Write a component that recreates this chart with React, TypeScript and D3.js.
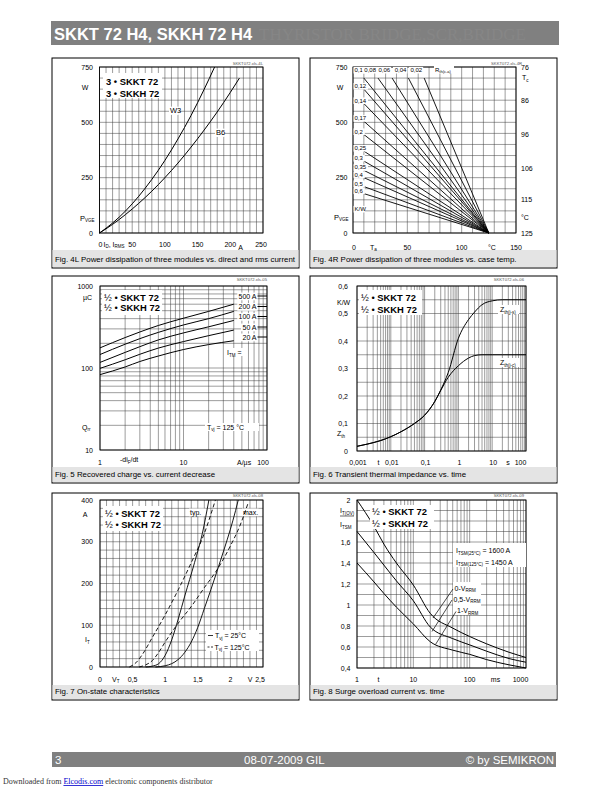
import React from "react";
import * as d3 from "d3";

const FONT = "'Liberation Sans', Arial, Helvetica, sans-serif";
const SERIF = "'Liberation Serif', 'Times New Roman', serif";

// ---------- Fig. 4L ----------
const f4l_w3_current = [0, 20, 40, 60, 80, 100, 120, 140, 160, 176];
const f4l_w3_power = [0, 45, 100, 166, 242, 328, 425, 531, 649, 750];
const f4l_b6_current = [0, 20, 40, 60, 80, 100, 120, 140, 160, 180, 200, 214];
const f4l_b6_power = [0, 39, 84, 134, 189, 250, 316, 388, 465, 547, 635, 700];
const f4l_xTicks = [50, 100, 150, 200];
const f4l_yTicks = [0, 250, 500, 750];

// ---------- Fig. 4R ----------
const f4r_sideLabels = ["0,12", "0,14", "0,17", "0,2", "0,25", "0,3", "0,35", "0,4", "0,5", "0,6"];
const f4r_sideStartPower = [650, 585, 505, 445, 370, 325, 283, 250, 210, 178];
const f4r_sideStartTa = 10;
const f4r_topLabels = ["0,1", "0,08", "0,06", "0,04", "0,02"];
const f4r_topStartTa = [10, 23, 36, 51, 65.5];
const f4r_topStartPower = 700;
const f4r_endTa = 125;
const f4r_xTicks = [50, 100, 150];
const f4r_yTicks = [0, 250, 500, 750];
const f4r_tcTicks = [76, 86, 96, 106, 115, 125];

// ---------- Fig. 5 ----------
const f5_didt = [1, 2, 3, 5, 10, 20, 40];
const f5_q500 = [176, 235, 275, 330, 405, 490, 600];
const f5_q200 = [146, 195, 228, 272, 335, 400, 490];
const f5_q100 = [117, 155, 182, 220, 268, 318, 380];
const f5_q50 = [99, 126, 147, 175, 210, 248, 290];
const f5_q20 = [83, 103, 120, 140, 168, 193, 215];
const f5_labels = ["500 A", "200 A", "100 A", "50 A", "20 A"];
const f5_yTicks = [10, 100, 1000];

// ---------- Fig. 6 ----------
const f6_t = [0.001, 0.002, 0.005, 0.01, 0.02, 0.05, 0.1, 0.2, 0.3, 0.5, 1, 2, 3, 5, 10, 20, 100];
const f6_zjc = [0.017, 0.025, 0.038, 0.052, 0.07, 0.1, 0.13, 0.18, 0.22, 0.268, 0.31, 0.338, 0.347, 0.35, 0.35, 0.35, 0.35];
const f6_zjs = [0.017, 0.025, 0.038, 0.052, 0.07, 0.1, 0.13, 0.18, 0.222, 0.285, 0.41, 0.478, 0.505, 0.532, 0.546, 0.55, 0.55];
const f6_yTicks = [0, 0.1, 0.2, 0.3, 0.4, 0.5, 0.6];
const f6_yLabels = ["0", "0,1", "0,2", "0,3", "0,4", "0,5", "0,6"];

// ---------- Fig. 7 ----------
const f7_typ25_v = [0.7, 0.8, 0.9, 1.0, 1.1, 1.2, 1.3, 1.45, 1.57, 1.67];
const f7_typ25_i = [0, 2, 8, 28, 65, 115, 170, 250, 320, 400];
const f7_typ125_v = [0.45, 0.55, 0.65, 0.8, 1.0, 1.2, 1.4, 1.6, 1.77];
const f7_typ125_i = [0, 10, 30, 70, 125, 185, 250, 320, 400];
const f7_max25_v = [0.85, 1.0, 1.1, 1.2, 1.3, 1.4, 1.5, 1.6, 1.7, 1.8, 1.9, 2.0, 2.08, 2.12];
const f7_max25_i = [0, 3, 8, 18, 35, 60, 95, 140, 185, 232, 280, 330, 375, 400];
const f7_max125_v = [0.6, 0.7, 0.8, 0.9, 1.0, 1.2, 1.4, 1.6, 1.8, 2.0, 2.15, 2.27];
const f7_max125_i = [0, 5, 15, 35, 60, 105, 145, 190, 234, 290, 340, 392];
const f7_yTicks = [0, 100, 200, 300, 400];

// ---------- Fig. 8 ----------
const f8_t = [1, 2, 3, 5, 10, 20, 50, 100, 200, 500, 1000];
const f8_v0 = [2.0, 1.75, 1.58, 1.4, 1.19, 0.92, 0.78, 0.7, 0.63, 0.55, 0.5];
const f8_v05 = [1.7, 1.5, 1.38, 1.23, 1.04, 0.79, 0.68, 0.62, 0.56, 0.49, 0.455];
const f8_v1 = [1.4, 1.22, 1.11, 0.98, 0.82, 0.65, 0.57, 0.53, 0.48, 0.43, 0.4];
const f8_yTicks = [0.4, 0.6, 0.8, 1, 1.2, 1.4, 1.6, 2];
const f8_yLabels = ["0,4", "0,6", "0,8", "1", "1,2", "1,4", "1,6", "2"];

// ---------- helpers ----------
function logGrid(lo: number, hi: number): number[] {
  const out: number[] = [];
  const d0 = Math.round(Math.log10(lo));
  const d1 = Math.round(Math.log10(hi));
  for (let d = d0; d < d1; d++) {
    for (let k = 1; k < 10; k++) out.push(k * Math.pow(10, d));
  }
  out.push(hi);
  return out;
}

function Frame({ x, y, w, h, capY0, capY1, caption, tag, tagX, tagY }: any) {
  return (
    <g>
      <rect x={x} y={y} width={w} height={h} fill="#fff" stroke="#000" strokeWidth={1} />
      <rect x={x + 0.5} y={capY0} width={w - 1} height={capY1 - capY0} fill="#e4e4e4" />
      <text x={x + 3} y={capY1 - 4.8} fontSize={7.9} fill="#000">{caption}</text>
      <text x={tagX} y={tagY} fontSize={4.2} fill="#555" textAnchor="end">{tag}</text>
    </g>
  );
}

function Grid({ xs, ys, x, y, x0, x1, y0, y1 }: any) {
  return (
    <g>
      <g stroke="#3a3a3a" strokeWidth={0.5}>
        {xs.map((v: number, i: number) => (
          <line key={"x" + i} x1={x(v)} x2={x(v)} y1={y0} y2={y1} />
        ))}
        {ys.map((v: number, i: number) => (
          <line key={"y" + i} x1={x0} x2={x1} y1={y(v)} y2={y(v)} />
        ))}
      </g>
      <rect x={x0} y={y0} width={x1 - x0} height={y1 - y0} fill="none" stroke="#000" strokeWidth={0.9} />
    </g>
  );
}

function Legend({ x, y, w, h, prefix, y1, y2, tx }: any) {
  return (
    <g>
      <rect x={x} y={y} width={w} height={h} fill="#fff" />
      <text x={tx} y={y1} fontSize={9.4} fontWeight={prefix === "3" ? "bold" : "normal"}>
        {prefix} • <tspan fontWeight="bold">SKKT 72</tspan>
      </text>
      <text x={tx} y={y2} fontSize={9.4} fontWeight={prefix === "3" ? "bold" : "normal"}>
        {prefix} • <tspan fontWeight="bold">SKKH 72</tspan>
      </text>
    </g>
  );
}

function LabelBox({ x, y, text, size = 7, anchor = "start", pad = 1 }: any) {
  const w = text.length * size * 0.52 + pad * 2;
  const left = anchor === "end" ? x - w + pad : anchor === "middle" ? x - w / 2 : x - pad;
  return (
    <g>
      <rect x={left} y={y - size * 0.85} width={w} height={size * 1.1} fill="#fff" />
      <text x={x} y={y} fontSize={size} textAnchor={anchor}>{text}</text>
    </g>
  );
}

// ---------- Fig. 4L ----------
function Fig4L() {
  const px0 = 99.5, px1 = 263, py0 = 67, py1 = 233;
  const x = d3.scaleLinear().domain([0, 250]).range([px0, px1]);
  const y = d3.scaleLinear().domain([0, 750]).range([py1, py0]);
  const line = d3.line<number[]>().x((d) => x(d[0])).y((d) => y(d[1])).curve(d3.curveMonotoneX);
  const w3 = f4l_w3_current.map((c, i) => [c, f4l_w3_power[i]]);
  const b6 = f4l_b6_current.map((c, i) => [c, f4l_b6_power[i]]);
  return (
    <g>
      <Frame x={52} y={58} w={247} h={210} capY0={250} capY1={267}
        caption="Fig. 4L Power dissipation of three modules vs. direct and rms current"
        tag="SKKT072.xls-4L" tagX={263} tagY={65} />
      <Grid xs={d3.range(0, 251, 10)} ys={d3.range(0, 751, 50)} x={x} y={y} x0={px0} x1={px1} y0={py0} y1={py1} />
      <g fill="none" stroke="#000" strokeWidth={1}>
        <path d={line(w3) || ""} />
        <path d={line(b6) || ""} />
      </g>
      <Legend x={103} y={73} w={59} h={25} prefix="3" tx={106} y1={84.5} y2={96.5} />
      <LabelBox x={170} y={113} text="W3" size={7.5} />
      <LabelBox x={216} y={135} text="B6" size={7.5} />
      {f4l_yTicks.map((v) => (
        <text key={v} x={93} y={y(v) + 2.5} fontSize={7} textAnchor="end">{v}</text>
      ))}
      <text x={85} y={89.5} fontSize={7} textAnchor="middle">W</text>
      <text x={80} y={220.5} fontSize={7.5}>P<tspan fontSize={4.5} dy={1.5}>VGE</tspan></text>
      <text x={x(0) + 1} y={246.5} fontSize={7} textAnchor="middle">0</text>
      <text x={103.5} y={246.5} fontSize={7}>I<tspan fontSize={4.5} dy={1.5}>D</tspan><tspan dy={-1.5}>, I</tspan><tspan fontSize={4.5} dy={1.5}>RMS</tspan></text>
      {f4l_xTicks.map((v) => (
        <text key={v} x={x(v)} y={246.5} fontSize={7} textAnchor="middle">{v}</text>
      ))}
      <text x={240.5} y={249.5} fontSize={7} textAnchor="middle">A</text>
      <text x={261} y={246.5} fontSize={7} textAnchor="middle">250</text>
    </g>
  );
}

// ---------- Fig. 4R ----------
function Fig4R() {
  const px0 = 353, px1 = 516, py0 = 67, py1 = 233;
  const x = d3.scaleLinear().domain([0, 150]).range([px0, px1]);
  const y = d3.scaleLinear().domain([0, 750]).range([py1, py0]);
  const yT = d3.scaleLinear().domain([125, 76]).range([py1, py0]);
  const endX = x(f4r_endTa), endY = y(0);
  return (
    <g>
      <Frame x={310} y={58} w={247} h={210} capY0={250} capY1={267}
        caption="Fig. 4R Power dissipation of three modules vs. case temp."
        tag="SKKT072.xls-4R" tagX={522} tagY={65} />
      <Grid xs={d3.range(0, 151, 10)} ys={d3.range(0, 751, 50)} x={x} y={y} x0={px0} x1={px1} y0={py0} y1={py1} />
      <g stroke="#000" strokeWidth={0.9}>
        {f4r_topStartTa.map((ta, i) => (
          <line key={"t" + i} x1={x(ta)} y1={y(f4r_topStartPower)} x2={endX} y2={endY} />
        ))}
        {f4r_sideStartPower.map((p, i) => (
          <line key={"s" + i} x1={x(f4r_sideStartTa)} y1={y(p)} x2={endX} y2={endY} />
        ))}
      </g>
      {f4r_topLabels.map((l, i) => (
        i === 0
          ? <LabelBox key={l} x={354.5} y={72} text={l} size={6} />
          : <LabelBox key={l} x={x(f4r_topStartTa[i]) - 2} y={72} text={l} size={6} anchor="end" />
      ))}
      <rect x={434} y={66} width={20} height={7.5} fill="#fff" />
      <text x={435} y={72} fontSize={6}>R<tspan fontSize={4} dy={1}>th(c-a)</tspan></text>
      {f4r_sideLabels.map((l, i) => (
        <LabelBox key={l} x={354.5} y={y(f4r_sideStartPower[i]) - 1} text={l} size={6} />
      ))}
      <LabelBox x={354.5} y={211} text="K/W" size={6} />
      {f4r_yTicks.map((v) => (
        <text key={v} x={347.5} y={y(v) + 2.5} fontSize={7} textAnchor="end">{v}</text>
      ))}
      <text x={340} y={89.5} fontSize={7} textAnchor="middle">W</text>
      <text x={334} y={219.5} fontSize={7.5}>P<tspan fontSize={4.5} dy={1.5}>VGE</tspan></text>
      {f4r_tcTicks.map((v) => (
        <text key={v} x={521} y={yT(v) + 2.5} fontSize={7}>{v}</text>
      ))}
      <text x={522} y={80} fontSize={7}>T<tspan fontSize={4.5} dy={1.5}>c</tspan></text>
      <text x={521} y={219.5} fontSize={7}>°C</text>
      <text x={x(0) + 1} y={249.5} fontSize={7} textAnchor="middle">0</text>
      <text x={370} y={249.5} fontSize={7}>T<tspan fontSize={4.5} dy={1.5}>a</tspan></text>
      {f4r_xTicks.map((v) => (
        <text key={v} x={x(v)} y={249.5} fontSize={7} textAnchor="middle">{v}</text>
      ))}
      <text x={492} y={249.5} fontSize={7} textAnchor="middle">°C</text>
    </g>
  );
}

// ---------- Fig. 5 ----------
function Fig5() {
  const px0 = 100, px1 = 267, py0 = 286, py1 = 450;
  const x = d3.scaleLog().domain([1, 100]).range([px0, px1]);
  const y = d3.scaleLog().domain([10, 1000]).range([py1, py0]);
  const line = d3.line<number[]>().x((d) => x(d[0])).y((d) => y(d[1])).curve(d3.curveMonotoneX);
  const series = [f5_q500, f5_q200, f5_q100, f5_q50, f5_q20];
  const labelY = [298.5, 309, 319, 329.5, 339.5];
  return (
    <g>
      <Frame x={52} y={276} w={247} h={207} capY0={467} capY1={482}
        caption="Fig. 5 Recovered charge vs. current decrease"
        tag="SKKT072.xls-05" tagX={267} tagY={281} />
      <Grid xs={logGrid(1, 100)} ys={logGrid(10, 1000)} x={x} y={y} x0={px0} x1={px1} y0={py0} y1={py1} />
      <g fill="none" stroke="#000" strokeWidth={1}>
        {series.map((s, i) => (
          <path key={i} d={line(f5_didt.map((d, j) => [d, s[j]])) || ""} />
        ))}
        {labelY.map((ly, i) => (
          <line key={"l" + i} x1={257} x2={px1} y1={ly - 2.5} y2={ly - 2.5} />
        ))}
      </g>
      {f5_labels.map((l, i) => (
        <LabelBox key={l} x={256.5} y={labelY[i]} text={l} size={7} anchor="end" />
      ))}
      <rect x={226} y={348} width={17} height={8} fill="#fff" />
      <text x={227} y={355} fontSize={7}>I<tspan fontSize={4.5} dy={1.5}>TM</tspan><tspan dy={-1.5}> =</tspan></text>
      <rect x={205} y={423} width={54} height={8} fill="#fff" />
      <text x={207} y={429.5} fontSize={7}>T<tspan fontSize={4.5} dy={1.5}>vj</tspan><tspan dy={-1.5}> = 125 °C</tspan></text>
      <Legend x={102} y={290} w={60} h={25} prefix="½" tx={104} y1={300.5} y2={311} />
      {f5_yTicks.map((v) => (
        <text key={v} x={93} y={y(v) + 2.5} fontSize={7} textAnchor="end">{v}</text>
      ))}
      <text x={83} y={299.5} fontSize={7}>µC</text>
      <text x={82} y={429.5} fontSize={7}>Q<tspan fontSize={4.5} dy={1.5}>rr</tspan></text>
      <text x={x(1)} y={464.5} fontSize={7} textAnchor="middle">1</text>
      <text x={120} y={462} fontSize={7}>-di<tspan fontSize={4.5} dy={1.5}>F</tspan><tspan dy={-1.5}>/dt</tspan></text>
      <text x={x(10)} y={464.5} fontSize={7} textAnchor="middle">10</text>
      <text x={237} y={464.5} fontSize={7}>A/µs</text>
      <text x={263} y={464.5} fontSize={7} textAnchor="middle">100</text>
    </g>
  );
}

// ---------- Fig. 6 ----------
function Fig6() {
  const px0 = 357, px1 = 526, py0 = 286, py1 = 451;
  const x = d3.scaleLog().domain([0.001, 100]).range([px0, px1]);
  const y = d3.scaleLinear().domain([0, 0.6]).range([py1, py0]);
  const line = d3.line<number[]>().x((d) => x(d[0])).y((d) => y(d[1])).curve(d3.curveMonotoneX);
  const xLabels = [[0.001, "0,001"], [0.01, "0,01"], [0.1, "0,1"], [1, "1"], [10, "10"]];
  return (
    <g>
      <Frame x={310} y={276} w={247} h={207} capY0={467} capY1={482}
        caption="Fig. 6 Transient thermal impedance vs. time"
        tag="SKKT072.xls-06" tagX={524} tagY={281} />
      <Grid xs={logGrid(0.001, 100)} ys={d3.range(0, 0.601, 0.05)} x={x} y={y} x0={px0} x1={px1} y0={py0} y1={py1} />
      <g fill="none" stroke="#000" strokeWidth={1}>
        <path d={line(f6_t.map((t, i) => [t, f6_zjs[i]])) || ""} />
        <path d={line(f6_t.map((t, i) => [t, f6_zjc[i]])) || ""} />
      </g>
      <rect x={498} y={305} width={21} height={9} fill="#fff" />
      <text x={500} y={312} fontSize={7}>Z<tspan fontSize={4.5} dy={1.5}>th(j-s)</tspan></text>
      <rect x={498} y={358} width={21} height={9} fill="#fff" />
      <text x={500} y={365} fontSize={7}>Z<tspan fontSize={4.5} dy={1.5}>th(j-c)</tspan></text>
      <Legend x={359} y={290} w={63} h={25} prefix="½" tx={361} y1={300.5} y2={313} />
      {f6_yTicks.map((v, i) => (
        <text key={v} x={348} y={y(v) + 2.5} fontSize={7} textAnchor="end">{f6_yLabels[i]}</text>
      ))}
      <text x={337} y={304.5} fontSize={7}>K/W</text>
      <text x={337} y={436} fontSize={7}>Z<tspan fontSize={4.5} dy={1.5}>th</tspan></text>
      {xLabels.map(([v, l]: any) => (
        <text key={l} x={x(v) + 1} y={465} fontSize={7} textAnchor="middle">{l}</text>
      ))}
      <text x={378.5} y={465} fontSize={7} textAnchor="middle">t</text>
      <text x={508} y={465} fontSize={7} textAnchor="middle">s</text>
      <text x={520.5} y={465} fontSize={7} textAnchor="middle">100</text>
    </g>
  );
}

// ---------- Fig. 7 ----------
function Fig7() {
  const px0 = 100, px1 = 263, py0 = 500, py1 = 667;
  const x = d3.scaleLinear().domain([0, 2.5]).range([px0, px1]);
  const y = d3.scaleLinear().domain([0, 400]).range([py1, py0]);
  const line = d3.line<number[]>().x((d) => x(d[0])).y((d) => y(d[1])).curve(d3.curveMonotoneX);
  const pts = (v: number[], c: number[]) => v.map((vv, i) => [vv, c[i]]);
  const xLabels = [[0.5, "0,5"], [1, "1"], [1.5, "1,5"], [2, "2"]];
  return (
    <g>
      <Frame x={52} y={493} w={247} h={207} capY0={685} capY1={699}
        caption="Fig. 7 On-state characteristics"
        tag="SKKT072.xls-08" tagX={263} tagY={497} />
      <Grid xs={d3.range(0, 2.501, 0.1)} ys={d3.range(0, 401, 20)} x={x} y={y} x0={px0} x1={px1} y0={py0} y1={py1} />
      <LabelBox x={190} y={514.5} text="typ." size={7} />
      <LabelBox x={243} y={514.5} text="max." size={7} />
      <g fill="none" stroke="#000" strokeWidth={0.9}>
        <path d={line(pts(f7_typ25_v, f7_typ25_i)) || ""} />
        <path d={line(pts(f7_max25_v, f7_max25_i)) || ""} />
        <path d={line(pts(f7_typ125_v, f7_typ125_i)) || ""} strokeDasharray="4,2.5" />
        <path d={line(pts(f7_max125_v, f7_max125_i)) || ""} strokeDasharray="4,2.5" />
      </g>
      <Legend x={103} y={506} w={60} h={25} prefix="½" tx={105} y1={516.5} y2={528} />
      <rect x={206} y={630} width={53} height={21} fill="#fff" />
      <line x1={208} x2={213} y1={635.5} y2={635.5} stroke="#000" strokeWidth={0.8} />
      <text x={215} y={638} fontSize={7}>T<tspan fontSize={4.5} dy={1.5}>vj</tspan><tspan dy={-1.5}> =  25°C</tspan></text>
      <line x1={207.5} x2={214} y1={647} y2={647} stroke="#000" strokeWidth={0.8} strokeDasharray="2,1.5" />
      <text x={214.5} y={649.5} fontSize={7}>T<tspan fontSize={4.5} dy={1.5}>vj</tspan><tspan dy={-1.5}> = 125°C</tspan></text>
      {f7_yTicks.map((v) => (
        <text key={v} x={93} y={y(v) + 2.5} fontSize={7} textAnchor="end">{v}</text>
      ))}
      <text x={85} y={517} fontSize={7} textAnchor="middle">A</text>
      <text x={85} y={642} fontSize={7}>I<tspan fontSize={4.5} dy={1.5}>T</tspan></text>
      <text x={x(0)} y={681.5} fontSize={7} textAnchor="middle">0</text>
      <text x={112} y={681.5} fontSize={7}>V<tspan fontSize={4.5} dy={1.5}>T</tspan></text>
      {xLabels.map(([v, l]: any) => (
        <text key={l} x={x(v)} y={681.5} fontSize={7} textAnchor="middle">{l}</text>
      ))}
      <text x={250} y={681.5} fontSize={7} textAnchor="middle">V</text>
      <text x={260} y={681.5} fontSize={7} textAnchor="middle">2,5</text>
    </g>
  );
}

// ---------- Fig. 8 ----------
function Fig8() {
  const px0 = 357, px1 = 526, py0 = 500, py1 = 668;
  const x = d3.scaleLog().domain([1, 1000]).range([px0, px1]);
  const y = d3.scaleLinear().domain([0.4, 2]).range([py1, py0]);
  const line = d3.line<number[]>().x((d) => x(d[0])).y((d) => y(d[1])).curve(d3.curveMonotoneX);
  const series = [f8_v0, f8_v05, f8_v1];
  const xLabels = [[1, "1"], [10, "10"], [100, "100"]];
  return (
    <g>
      <Frame x={310} y={493} w={247} h={207} capY0={685} capY1={699}
        caption="Fig. 8 Surge overload current vs. time"
        tag="SKKT072.xls-09" tagX={524} tagY={497} />
      <Grid xs={logGrid(1, 1000)} ys={d3.range(0.4, 2.001, 0.1)} x={x} y={y} x0={px0} x1={px1} y0={py0} y1={py1} />
      <g fill="none" stroke="#000" strokeWidth={1}>
        {series.map((s, i) => (
          <path key={i} d={line(f8_t.map((t, j) => [t, s[j]])) || ""} />
        ))}
      </g>
      <rect x={370} y={505} width={64} height={24} fill="#fff" />
      <text x={372} y={514.5} fontSize={9.4}>½ • <tspan fontWeight="bold">SKKT 72</tspan></text>
      <text x={372} y={526.5} fontSize={9.4}>½ • <tspan fontWeight="bold">SKKH 72</tspan></text>
      <rect x={453} y={543} width={73} height={24} fill="#fff" />
      <text x={456} y={553} fontSize={7}>I<tspan fontSize={4.5} dy={1.5}>TSM(25°C)</tspan><tspan dy={-1.5}>  = 1600 A</tspan></text>
      <text x={456} y={564.5} fontSize={7}>I<tspan fontSize={4.5} dy={1.5}>TSM(125°C)</tspan><tspan dy={-1.5}> = 1450 A</tspan></text>
      <rect x={453} y={582} width={28} height={33} fill="#fff" />
      <text x={454.5} y={590.5} fontSize={7}>0-V<tspan fontSize={4.5} dy={1.5}>RRM</tspan></text>
      <text x={453.5} y={601.5} fontSize={7}>0,5-V<tspan fontSize={4.5} dy={1.5}>RRM</tspan></text>
      <text x={457} y={613} fontSize={7}>1-V<tspan fontSize={4.5} dy={1.5}>RRM</tspan></text>
      <g stroke="#000" strokeWidth={0.7}>
        <line x1={453} y1={589} x2={433} y2={618} />
        <line x1={452} y1={600} x2={432} y2={631.5} />
        <line x1={456} y1={611.5} x2={435.5} y2={644.5} />
      </g>
      {f8_yTicks.map((v, i) => (
        <text key={v} x={350.5} y={y(v) + 2.5} fontSize={7} textAnchor="end">{f8_yLabels[i]}</text>
      ))}
      <rect x={339} y={504} width={17} height={25} fill="#fff" />
      <text x={340} y={513} fontSize={7}>I<tspan fontSize={4.5} dy={1.5}>T(OV)</tspan></text>
      <line x1={340} x2={354} y1={516} y2={516} stroke="#000" strokeWidth={0.6} />
      <text x={340} y={527} fontSize={7}>I<tspan fontSize={4.5} dy={1.5}>TSM</tspan></text>
      {xLabels.map(([v, l]: any) => (
        <text key={l} x={x(v)} y={681.5} fontSize={7} textAnchor="middle">{l}</text>
      ))}
      <text x={378.5} y={681.5} fontSize={7} textAnchor="middle">t</text>
      <text x={495.5} y={681.5} fontSize={7} textAnchor="middle">ms</text>
      <text x={520.5} y={681.5} fontSize={7} textAnchor="middle">1000</text>
    </g>
  );
}

export default function App() {
  return (
    <svg width={612} height={792} viewBox="0 0 612 792"
      style={{ position: "absolute", left: 0, top: 0, display: "block" }}
      fontFamily={FONT}>
      <rect x={0} y={0} width={612} height={792} fill="#fff" />
      <rect x={51} y={21} width={508} height={24} fill="#808080" />
      <text x={54} y={39.5} fontSize={16.5} fontWeight="bold" fill="#fff">SKKT 72 H4, SKKH 72 H4</text>
      <text x={259} y={39.5} fontSize={16} fill="#868686" fontFamily={SERIF} textLength={267} lengthAdjust="spacingAndGlyphs">THYRISTOR BRIDGE,SCR,BRIDGE</text>
      <Fig4L />
      <Fig4R />
      <Fig5 />
      <Fig6 />
      <Fig7 />
      <Fig8 />
      <rect x={52} y={752} width={504} height={15} fill="#808080" />
      <text x={55} y={764} fontSize={11.5} fill="#fff">3</text>
      <text x={244} y={764} fontSize={11.5} fill="#fff">08-07-2009  GIL</text>
      <text x={554} y={764} fontSize={11.5} fill="#fff" textAnchor="end">© by SEMIKRON</text>
      <text x={3} y={784} fontSize={8} fontFamily={SERIF} fill="#333">
        Downloaded from <tspan fill="#0000cc" textDecoration="underline">Elcodis.com</tspan> electronic components distributor
      </text>
    </svg>
  );
}
